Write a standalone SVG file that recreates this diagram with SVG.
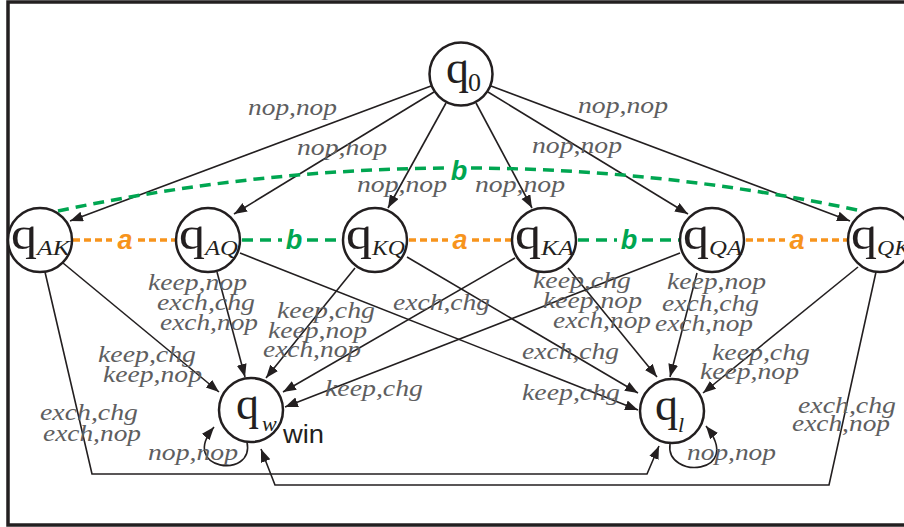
<svg xmlns="http://www.w3.org/2000/svg" width="904" height="527" viewBox="0 0 904 527">
<style>
.nd{fill:#fff;stroke:#231f20;stroke-width:2.5}
.q{font-family:"Liberation Serif","Times New Roman",serif;font-size:46px;fill:#231f20}
.s{font-family:"Liberation Serif","Times New Roman",serif;font-style:italic;font-size:22px;fill:#231f20}
.z{font-family:"Liberation Serif","Times New Roman",serif;font-size:26px;fill:#231f20}
.e{fill:none;stroke:#231f20;stroke-width:1.6;marker-end:url(#ah)}
.l{font-family:"Liberation Serif","Times New Roman",serif;font-style:italic;font-size:24px;fill:#5e5e60}
.oa{fill:none;stroke:#f7941d;stroke-width:3.5;stroke-dasharray:7 4}
.gb{fill:none;stroke:#00a651;stroke-width:3.5;stroke-dasharray:11 7}
.ta{font-family:"Liberation Sans",Arial,sans-serif;font-weight:bold;font-style:italic;font-size:27px;fill:#f7941d;text-anchor:middle}
.tb{font-family:"Liberation Sans",Arial,sans-serif;font-weight:bold;font-style:italic;font-size:27px;fill:#00a651;text-anchor:middle}
</style>
<defs>
<marker id="ah" markerUnits="userSpaceOnUse" markerWidth="14" markerHeight="11" refX="13" refY="5" orient="auto">
<path d="M0,0 L13,5 L0,10 z" fill="#231f20"/>
</marker>
</defs>
<rect x="8" y="2" width="1000" height="523" fill="#fff" stroke="#231f20" stroke-width="3.5"/>

<g id="connectors">
<path class="e" d="M431,86 L70,221"/>
<path class="e" d="M434,92 L234,214"/>
<path class="e" d="M446,103 L388,208"/>
<path class="e" d="M476,103 L532,208"/>
<path class="e" d="M488,92 L688,214"/>
<path class="e" d="M491,86 L850,221"/>
<path class="e" d="M63,263 L219,392"/>
<path class="e" d="M45,272 L92,474 L647,474 L659,446"/>
<path class="e" d="M876,272 L829,485 L275,485 L261,449"/>
<path class="e" d="M217,272 L245,377"/>
<path class="e" d="M240,253 L638,410"/>
<path class="e" d="M355,268 L266,378"/>
<path class="e" d="M407,257 L638,393"/>
<path class="e" d="M515,258 L283,392"/>
<path class="e" d="M568,268 L657,377"/>
<path class="e" d="M680,253 L285,407"/>
<path class="e" d="M697,273 L670,377"/>
<path class="e" d="M858,267 L703,393"/>
<path class="e" d="M247,442 C255,480 178,470 214,427"/>
<path class="e" d="M670,444 C665,480 745,475 706,426"/>
<path class="gb" d="M58,211 Q253.5,169.2 449,168"/>
<path class="gb" d="M471,168 Q666.5,169.2 862,211"/>
<path class="oa" d="M73,240 H112 M138,240 H176"/>
<path class="gb" d="M242,240 H282 M307,240 H343"/>
<path class="oa" d="M409,240 H448 M472,240 H512"/>
<path class="gb" d="M578,240 H617 M642,240 H680"/>
<path class="oa" d="M746,240 H785 M810,240 H848"/>
</g>

<g id="labels">
<text class="tb" x="459" y="180">b</text>
<text class="ta" x="125" y="249">a</text>
<text class="tb" x="294" y="249">b</text>
<text class="ta" x="460" y="249">a</text>
<text class="tb" x="629" y="249">b</text>
<text class="ta" x="797" y="249">a</text>
<text class="l" x="248" y="115" textLength="89" lengthAdjust="spacingAndGlyphs">nop,nop</text>
<text class="l" x="578" y="113" textLength="90" lengthAdjust="spacingAndGlyphs">nop,nop</text>
<text class="l" x="297" y="155" textLength="90" lengthAdjust="spacingAndGlyphs">nop,nop</text>
<text class="l" x="357" y="192" textLength="90" lengthAdjust="spacingAndGlyphs">nop,nop</text>
<text class="l" x="532" y="153" textLength="90" lengthAdjust="spacingAndGlyphs">nop,nop</text>
<text class="l" x="475" y="192" textLength="90" lengthAdjust="spacingAndGlyphs">nop,nop</text>
<text class="l" x="98" y="362" textLength="98" lengthAdjust="spacingAndGlyphs">keep,chg</text>
<text class="l" x="103" y="382" textLength="99" lengthAdjust="spacingAndGlyphs">keep,nop</text>
<text class="l" x="40" y="420" textLength="98" lengthAdjust="spacingAndGlyphs">exch,chg</text>
<text class="l" x="43" y="441" textLength="98" lengthAdjust="spacingAndGlyphs">exch,nop</text>
<text class="l" x="148" y="290" textLength="99" lengthAdjust="spacingAndGlyphs">keep,nop</text>
<text class="l" x="157" y="310" textLength="98" lengthAdjust="spacingAndGlyphs">exch,chg</text>
<text class="l" x="160" y="330" textLength="98" lengthAdjust="spacingAndGlyphs">exch,nop</text>
<text class="l" x="277" y="318" textLength="98" lengthAdjust="spacingAndGlyphs">keep,chg</text>
<text class="l" x="268" y="338" textLength="99" lengthAdjust="spacingAndGlyphs">keep,nop</text>
<text class="l" x="263" y="357" textLength="98" lengthAdjust="spacingAndGlyphs">exch,nop</text>
<text class="l" x="393" y="310" textLength="97" lengthAdjust="spacingAndGlyphs">exch,chg</text>
<text class="l" x="325" y="396" textLength="98" lengthAdjust="spacingAndGlyphs">keep,chg</text>
<text class="l" x="522" y="359" textLength="97" lengthAdjust="spacingAndGlyphs">exch,chg</text>
<text class="l" x="522" y="400" textLength="98" lengthAdjust="spacingAndGlyphs">keep,chg</text>
<text class="l" x="533" y="288" textLength="98" lengthAdjust="spacingAndGlyphs">keep,chg</text>
<text class="l" x="543" y="308" textLength="99" lengthAdjust="spacingAndGlyphs">keep,nop</text>
<text class="l" x="553" y="328" textLength="98" lengthAdjust="spacingAndGlyphs">exch,nop</text>
<text class="l" x="667" y="289" textLength="99" lengthAdjust="spacingAndGlyphs">keep,nop</text>
<text class="l" x="662" y="311" textLength="97" lengthAdjust="spacingAndGlyphs">exch,chg</text>
<text class="l" x="655" y="331" textLength="98" lengthAdjust="spacingAndGlyphs">exch,nop</text>
<text class="l" x="712" y="360" textLength="98" lengthAdjust="spacingAndGlyphs">keep,chg</text>
<text class="l" x="700" y="379" textLength="99" lengthAdjust="spacingAndGlyphs">keep,nop</text>
<text class="l" x="798" y="413" textLength="98" lengthAdjust="spacingAndGlyphs">exch,chg</text>
<text class="l" x="792" y="431" textLength="98" lengthAdjust="spacingAndGlyphs">exch,nop</text>
<text class="l" x="148" y="460" textLength="90" lengthAdjust="spacingAndGlyphs">nop,nop</text>
<text class="l" x="687" y="460" textLength="89" lengthAdjust="spacingAndGlyphs">nop,nop</text>
</g>

<g id="q0"><circle class="nd" cx="461" cy="74" r="31.5"/>
<text class="q" x="446" y="83" textLength="23" lengthAdjust="spacingAndGlyphs">q</text><text class="z" x="468" y="91">0</text></g>
<g id="qAK"><circle class="nd" cx="40" cy="240" r="32"/>
<text class="q" x="11" y="249" textLength="26" lengthAdjust="spacingAndGlyphs">q</text><text class="s" x="37" y="255" textLength="33" lengthAdjust="spacingAndGlyphs">AK</text></g>
<g id="qAQ"><circle class="nd" cx="208" cy="240" r="32"/>
<text class="q" x="179" y="249" textLength="26" lengthAdjust="spacingAndGlyphs">q</text><text class="s" x="205" y="255" textLength="33" lengthAdjust="spacingAndGlyphs">AQ</text></g>
<g id="qKQ"><circle class="nd" cx="375" cy="240" r="32"/>
<text class="q" x="346" y="249" textLength="26" lengthAdjust="spacingAndGlyphs">q</text><text class="s" x="372" y="255" textLength="33" lengthAdjust="spacingAndGlyphs">KQ</text></g>
<g id="qKA"><circle class="nd" cx="544" cy="240" r="32"/>
<text class="q" x="515" y="249" textLength="26" lengthAdjust="spacingAndGlyphs">q</text><text class="s" x="541" y="255" textLength="33" lengthAdjust="spacingAndGlyphs">KA</text></g>
<g id="qQA"><circle class="nd" cx="712" cy="240" r="32"/>
<text class="q" x="683" y="249" textLength="26" lengthAdjust="spacingAndGlyphs">q</text><text class="s" x="709" y="255" textLength="33" lengthAdjust="spacingAndGlyphs">QA</text></g>
<g id="qQK"><circle class="nd" cx="880" cy="240" r="32"/>
<text class="q" x="851" y="249" textLength="26" lengthAdjust="spacingAndGlyphs">q</text><text class="s" x="877" y="255" textLength="33" lengthAdjust="spacingAndGlyphs">QK</text></g>
<g id="qw"><circle class="nd" cx="251" cy="410" r="32"/>
<text class="q" x="236" y="419" textLength="23" lengthAdjust="spacingAndGlyphs">q</text><text class="s" x="262" y="431">w</text>
<text x="283" y="443" font-family="Liberation Sans,Arial,sans-serif" font-size="25" fill="#231f20" textLength="41" lengthAdjust="spacingAndGlyphs">win</text></g>
<g id="ql"><circle class="nd" cx="672" cy="411" r="32"/>
<text class="q" x="655" y="420" textLength="23" lengthAdjust="spacingAndGlyphs">q</text><text class="s" x="678" y="432">l</text></g>
</svg>
